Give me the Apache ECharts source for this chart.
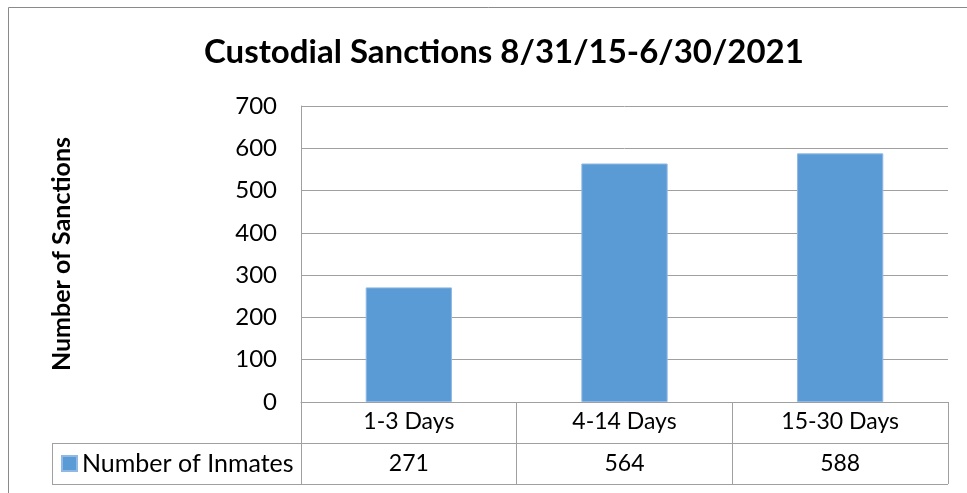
<!DOCTYPE html>
<html lang="en">
<head>
    <meta charset="UTF-8">
    <title>Custodial Sanctions</title>
    <script src="https://cdn.jsdelivr.net/npm/echarts@6/dist/echarts.min.js"></script>
    <style>
        html, body { margin: 0; padding: 0; background: #fff; }
        #main { width: 967px; height: 493px; }
    </style>
</head>
<body>
<div id="main"></div>

<script>
    var categories = ['1-3 Days', '4-14 Days', '15-30 Days'];
    var inmates = [271, 564, 588];
    var yMin = 0, yMax = 700, yStep = 100;

    var font = 'Lato';
    var lineGray = '#a0a0a0';

    // layout of the plot and the data table under it
    var plotLeft = 301, plotRight = 948, plotTop = 106, plotBottom = 402;
    var rowHeight = 41, tableLeft = 52;

    var myChart = echarts.init(document.getElementById('main'));

    var option = {
        animation: false,
        title: {
            text: 'Custodial Sanctions 8/31/15-6/30/2021',
            left: 204,
            top: 36,
            padding: 0,
            textStyle: { fontFamily: font, fontWeight: 'bold', fontSize: 33, color: '#000' }
        },
        legend: {
            left: tableLeft + 9,
            top: plotBottom + rowHeight + 8,
            padding: 0,
            icon: 'rect',
            itemWidth: 15,
            itemHeight: 15,
            textStyle: { fontFamily: font, fontSize: 25, color: '#000' },
            data: ['Number of Inmates']
        },
        grid: {
            left: plotLeft,
            right: 967 - plotRight,
            top: plotTop,
            bottom: 493 - plotBottom
        },
        xAxis: [{
            type: 'category',
            data: categories,
            axisLine: { show: true, lineStyle: { color: lineGray, width: 1 } },
            axisTick: { show: true, interval: 0, length: rowHeight * 2, lineStyle: { color: lineGray } },
            axisLabel: { margin: 8, fontFamily: font, fontSize: 23, color: '#000' }
        }, {
            // values row of the data table
            type: 'category',
            position: 'bottom',
            offset: rowHeight,
            data: inmates.map(String),
            axisLine: { show: false },
            axisTick: { show: false },
            axisLabel: { margin: 9, fontFamily: font, fontSize: 23, color: '#000' }
        }],
        yAxis: {
            type: 'value',
            min: yMin,
            max: yMax,
            interval: yStep,
            name: 'Number of Sanctions',
            nameLocation: 'middle',
            nameGap: 227,
            nameTextStyle: { fontFamily: font, fontWeight: 'bold', fontSize: 25, color: '#000' },
            axisLine: { show: true, lineStyle: { color: lineGray } },
            axisTick: { show: false },
            axisLabel: { margin: 24, fontFamily: font, fontSize: 24, color: '#000' },
            splitLine: { lineStyle: { color: lineGray, width: 1 } }
        },
        series: [{
            name: 'Number of Inmates',
            type: 'bar',
            xAxisIndex: 0,
            barWidth: '40%',
            itemStyle: { color: '#5b9bd5', borderColor: '#8fb9e4', borderWidth: 1 },
            data: inmates
        }],
        graphic: [{
            type: 'rect',
            shape: { x: 8.5, y: 7.5, width: 1000, height: 600 },
            style: { fill: 'none', stroke: '#8a8a8a', lineWidth: 1 },
            silent: true
        }, {
            type: 'line',
            shape: { x1: tableLeft, y1: plotBottom + rowHeight + 0.5, x2: plotRight, y2: plotBottom + rowHeight + 0.5 },
            style: { stroke: lineGray, lineWidth: 1 },
            silent: true
        }, {
            type: 'line',
            shape: { x1: tableLeft, y1: plotBottom + 2 * rowHeight + 0.5, x2: plotRight, y2: plotBottom + 2 * rowHeight + 0.5 },
            style: { stroke: lineGray, lineWidth: 1 },
            silent: true
        }, {
            type: 'line',
            shape: { x1: tableLeft + 0.5, y1: plotBottom + rowHeight, x2: tableLeft + 0.5, y2: plotBottom + 2 * rowHeight },
            style: { stroke: lineGray, lineWidth: 1 },
            silent: true
        }]
    };

    myChart.setOption(option);
</script>
</body>
</html>
